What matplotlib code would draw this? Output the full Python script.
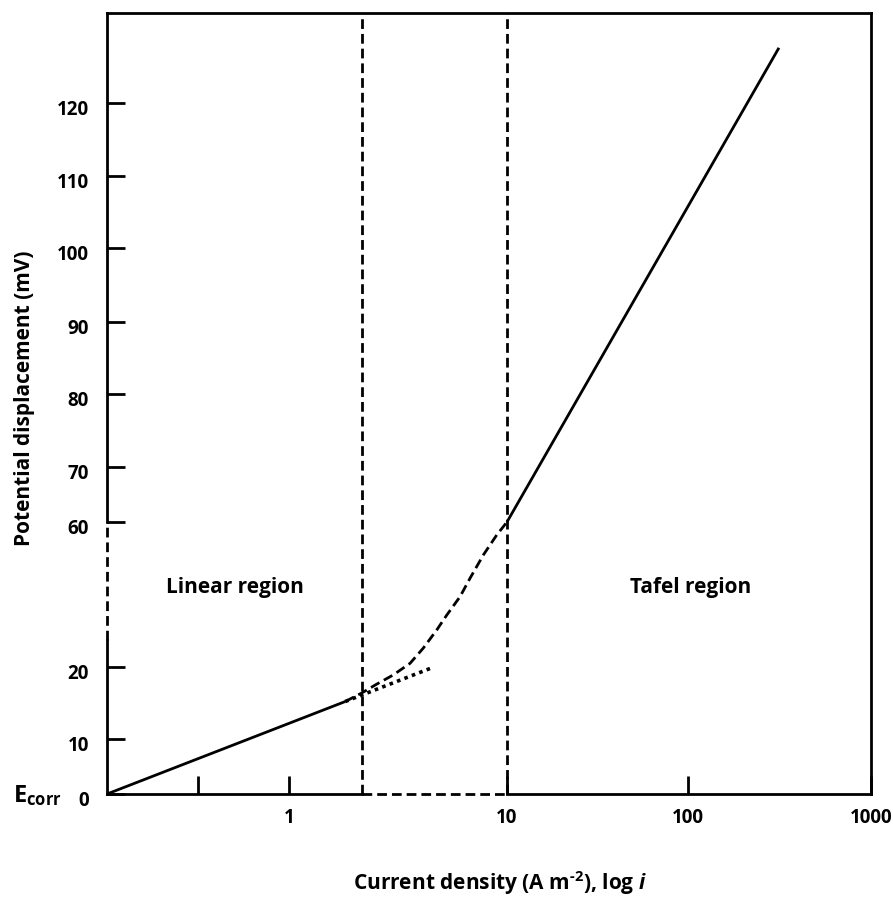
import numpy as np
import matplotlib.pyplot as plt
from matplotlib.transforms import ScaledTranslation

y_ticks = [0, 10, 20, 60, 70, 80, 90, 100, 110, 120]
x_ticks = [10 ** -0.5, 1, 10, 100, 1000]
x_tick_labels = ["", "1", "10", "100", "1000"]

linear_i = [0.1, 1.81]
linear_E = [0, 15.2]
extrap_i = [1.81, 4.62]
extrap_E = [15.2, 20.0]
trans_i = [1.81, 2.16, 2.52, 3.01, 3.59, 4.13, 4.76, 5.29, 6.09, 6.77, 7.79, 8.97, 10]
trans_E = [15.2, 16.4, 17.6, 18.9, 21.0, 25.2, 30.2, 34.3, 39.4, 44.5, 50.9, 56.4, 60]
tafel_i = [10, 314]
tafel_E = [60, 127.6]
bounds = [2.16, 10]

# the hand drawn axes are not evenly spaced, so map them piecewise
xs_log = [-2, -1, 0, 1, 2, 3, 4]
xs_pos = [-182, 0, 182, 400, 581, 764, 947]
ys_val = [-10, 0, 10, 20, 60, 70, 80, 90, 100, 110, 120, 140]
ys_pos = [-55, 0, 55, 127, 272, 327, 400, 472, 546, 618, 691, 836]


def fx(v):
    return np.interp(np.log10(np.clip(v, 1e-9, None)), xs_log, xs_pos)


def fx_inv(p):
    return 10 ** np.interp(p, xs_pos, xs_log)


def fy(v):
    return np.interp(v, ys_val, ys_pos)


def fy_inv(p):
    return np.interp(p, ys_pos, ys_val)


plt.rcParams["font.family"] = "Open Sans"
plt.rcParams["font.weight"] = "bold"
plt.rcParams["mathtext.fontset"] = "custom"
plt.rcParams["mathtext.rm"] = "Open Sans:bold"
plt.rcParams["mathtext.bf"] = "Open Sans:bold"
plt.rcParams["mathtext.it"] = "Open Sans:bold:italic"
plt.rcParams["mathtext.bfit"] = "Open Sans:bold:italic"

fig = plt.figure(figsize=(8.93, 9.0), dpi=100)
ax = fig.add_axes([107 / 893, 106 / 900, 764 / 893, 781 / 900])
ax.set_xscale("function", functions=(fx, fx_inv))
ax.set_yscale("function", functions=(fy, fy_inv))
ax.set_xlim(0.1, 1000)
ax.set_ylim(0, 132.4)

lw = 2.0
dash = (3.5, 1.8)

ax.plot(linear_i, linear_E, color="black", lw=lw, solid_capstyle="butt")
ax.plot(extrap_i, extrap_E, color="black", lw=lw + 0.6, dashes=(1, 1.2))
ax.plot(trans_i, trans_E, color="black", lw=lw, dashes=dash)
ax.plot(tafel_i, tafel_E, color="black", lw=lw, solid_capstyle="butt")
for b in bounds:
    ax.plot([b, b], [0, 132.4], color="black", lw=lw, dashes=dash, clip_on=False)

# left and bottom axes drawn by hand (partly dashed)
for s in ["left", "bottom"]:
    ax.spines[s].set_visible(False)
for s in ["top", "right"]:
    ax.spines[s].set_linewidth(lw)
ax.plot([0.1, 0.1], [0, 27.4], color="black", lw=lw, clip_on=False)
ax.plot([0.1, 0.1], [27.4, 60], color="black", lw=lw, dashes=dash, clip_on=False)
ax.plot([0.1, 0.1], [60, 132.4], color="black", lw=lw, clip_on=False, solid_capstyle="projecting")
ax.plot([0.1, bounds[0]], [0, 0], color="black", lw=lw, clip_on=False, solid_capstyle="projecting")
ax.plot([bounds[0], 10], [0, 0], color="black", lw=lw, dashes=dash, clip_on=False)
ax.plot([10, 1000], [0, 0], color="black", lw=lw, clip_on=False, solid_capstyle="projecting")

ax.set_yticks(y_ticks)
ax.set_yticklabels([str(v) for v in y_ticks])
ax.set_xticks(x_ticks)
ax.set_xticklabels(x_tick_labels)
ax.minorticks_off()
ax.tick_params(direction="in", length=13, width=lw, labelsize=13.5)
ax.tick_params(axis="y", pad=13)
ax.tick_params(axis="x", pad=10)

# y labels sit a little below their ticks in the original
shift = ScaledTranslation(0, -0.05, fig.dpi_scale_trans)
for lab in ax.get_yticklabels():
    lab.set_transform(lab.get_transform() + shift)

ax.text(0.505, 41.8, "Linear region", ha="center", va="center", fontsize=15)
ax.text(104, 41.8, "Tafel region", ha="center", va="center", fontsize=15)

fig.text(25 / 893, 1 - 398 / 900, "Potential displacement (mV)", rotation=90,
         ha="center", va="center", fontsize=15)
fig.text(500 / 893, 1 - 890 / 900, r"Current density (A m$^{\text{-2}}$), log $\mathit{i}$",
         ha="center", va="baseline", fontsize=15)
fig.text(13 / 893, 1 - 802 / 900, r"E$_{\mathrm{corr}}$", ha="left", va="baseline", fontsize=17)

fig.savefig("out.png", dpi=100)
